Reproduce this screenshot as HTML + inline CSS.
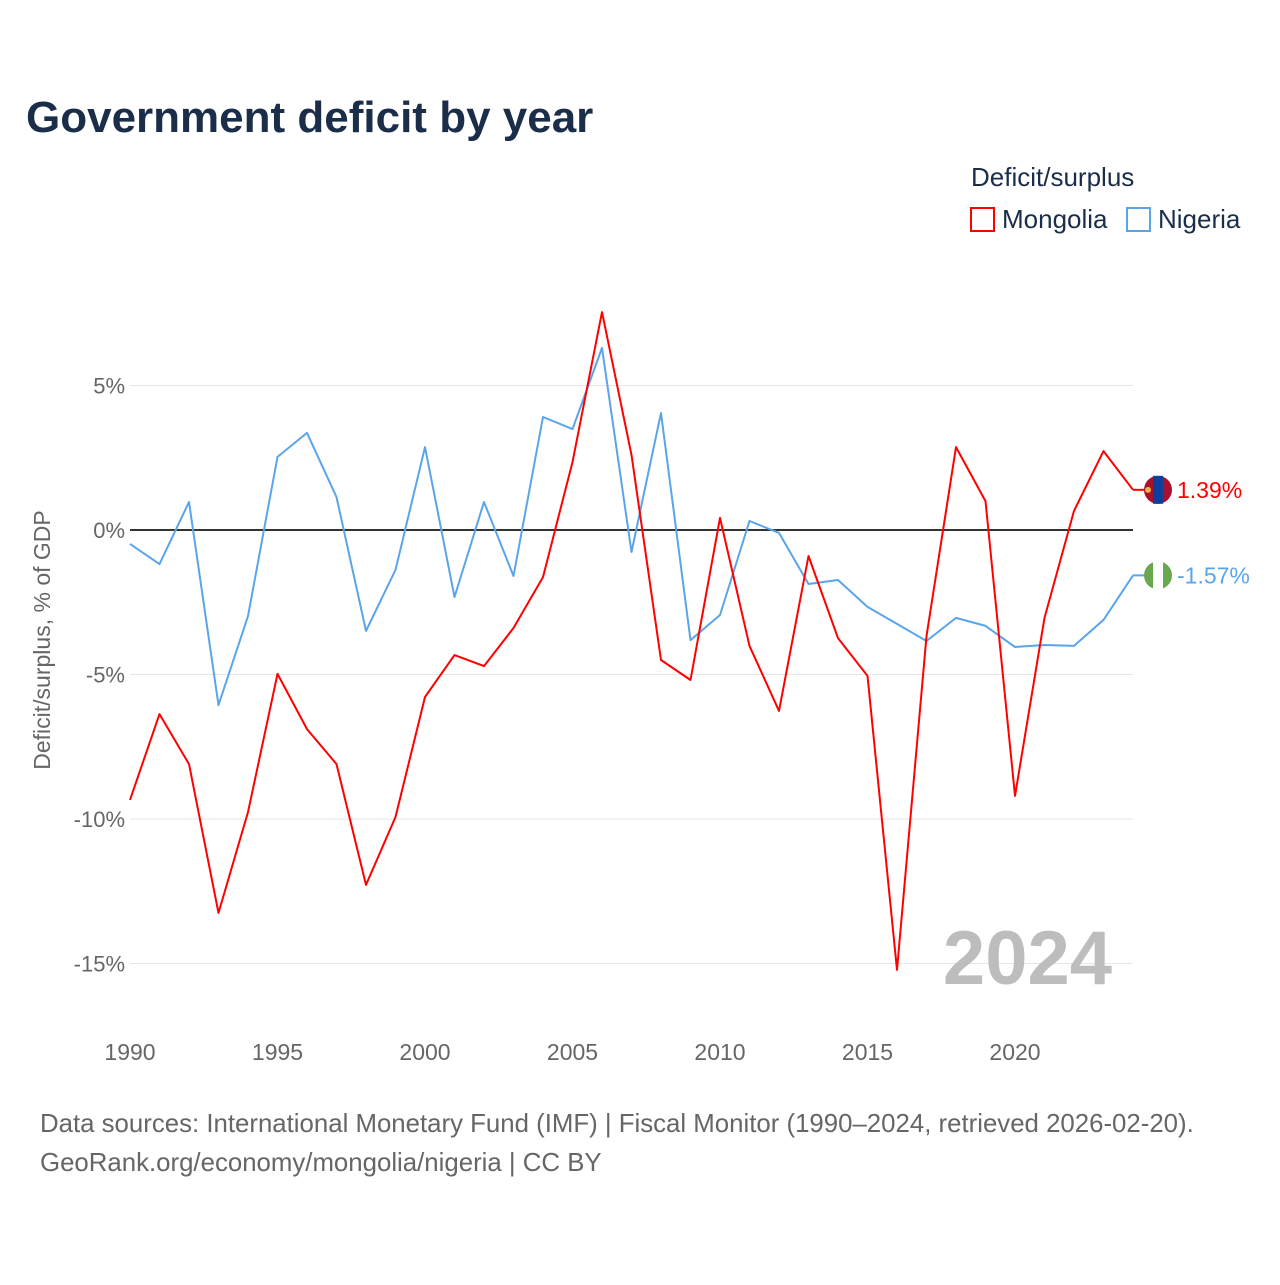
<!DOCTYPE html>
<html><head><meta charset="utf-8">
<style>
html,body{margin:0;padding:0;background:#fff;}
body{width:1280px;height:1280px;overflow:hidden;font-family:"Liberation Sans",sans-serif;}
</style></head>
<body>
<svg id="chart" width="1280" height="1280" xmlns="http://www.w3.org/2000/svg" font-family="Liberation Sans, sans-serif">
<text x="26" y="132" font-size="44" font-weight="bold" fill="#1a2e4a">Government deficit by year</text>
<text x="971" y="186" font-size="26" fill="#1a2e4a">Deficit/surplus</text>
<rect x="971" y="208" width="23" height="23" fill="none" stroke="#ff0000" stroke-width="2"/>
<text x="1002" y="228" font-size="26" fill="#1a2e4a">Mongolia</text>
<rect x="1127" y="208" width="23" height="23" fill="none" stroke="#5aa5ea" stroke-width="2"/>
<text x="1158" y="228" font-size="26" fill="#1a2e4a">Nigeria</text>
<text transform="translate(50,640) rotate(-90)" text-anchor="middle" font-size="23" fill="#666">Deficit/surplus, % of GDP</text>
<g id="grid"></g>
<g id="xticks"></g>
<text x="1112" y="984" text-anchor="end" font-size="76" font-weight="bold" fill="#bdbdbd">2024</text>
<g id="series"></g>
<text x="40" y="1132" font-size="25.8" fill="#666">Data sources: International Monetary Fund (IMF) | Fiscal Monitor (1990–2024, retrieved 2026-02-20).</text>
<text x="40" y="1171" font-size="25.8" fill="#666">GeoRank.org/economy/mongolia/nigeria | CC BY</text>
</svg>
<script>
const years = [1990,1991,1992,1993,1994,1995,1996,1997,1998,1999,2000,2001,2002,2003,2004,2005,2006,2007,2008,2009,2010,2011,2012,2013,2014,2015,2016,2017,2018,2019,2020,2021,2022,2023,2024];
const mongolia = [-9.34,-6.37,-8.1,-13.25,-9.76,-4.98,-6.89,-8.1,-12.28,-9.93,-5.78,-4.33,-4.71,-3.39,-1.63,2.35,7.54,2.6,-4.5,-5.19,0.42,-4.01,-6.26,-0.9,-3.74,-5.05,-15.22,-3.67,2.87,1.0,-9.2,-3.04,0.66,2.73,1.39];
const nigeria = [-0.48,-1.18,0.97,-6.06,-2.98,2.53,3.36,1.14,-3.49,-1.38,2.87,-2.32,0.97,-1.59,3.91,3.49,6.3,-0.76,4.05,-3.81,-2.94,0.31,-0.1,-1.87,-1.73,-2.66,-3.25,-3.84,-3.04,-3.32,-4.05,-3.98,-4.01,-3.11,-1.57];
const yTicks = [5,0,-5,-10,-15];
const yTickLabels = ["5%","0%","-5%","-10%","-15%"];
const xTicks = [1990,1995,2000,2005,2010,2015,2020];

const NS="http://www.w3.org/2000/svg";
const x = v => 130 + (v-1990)*(1133-130)/34;
const y = v => 530 - v*28.9;
function mk(tag,attrs,parent){const e=document.createElementNS(NS,tag);for(const k in attrs)e.setAttribute(k,attrs[k]);parent.appendChild(e);return e;}
const grid=document.getElementById('grid');
yTicks.forEach((t,i)=>{
  const l=mk('line',{x1:130,x2:1133,y1:y(t),y2:y(t),stroke:t===0?'#333':'#e6e6e6','stroke-width':t===0?2:1},grid);
  
  
  const tx=mk('text',{x:125,y:y(t)+8,'text-anchor':'end','font-size':22,fill:'#666'},grid);
  tx.textContent=yTickLabels[i];
  
  
});
const xt=document.getElementById('xticks');
xTicks.forEach(t=>{
  const tx=mk('text',{x:x(t),y:1060,'text-anchor':'middle','font-size':23,fill:'#666'},xt);
  tx.textContent=t;
  
  
});
const sg=document.getElementById('series');
function drawSeries(vals,color,name){
  const d=vals.map((v,i)=>(i?'L':'M')+x(years[i]).toFixed(1)+','+y(v).toFixed(1)).join(' ');
  const p=mk('path',{d:d,fill:'none',stroke:color,'stroke-width':2,'stroke-linejoin':'round'},sg);
  
  
  const last=vals[vals.length-1];
  const ly=y(last);
  mk('line',{x1:x(years[years.length-1]),x2:1146,y1:ly,y2:ly,stroke:color,'stroke-width':2},sg);
  const c=mk('g',{},sg);
  
  
  if(name==='mongolia'){
    mk('circle',{cx:1158,cy:ly,r:14,fill:'#a8102e'},c);
    mk('rect',{x:1153,y:ly-14,width:10,height:28,fill:'#0f3f9a'},c);
    mk('circle',{cx:1148,cy:ly,r:3,fill:'#f0b24a'},c);
  } else {
    mk('circle',{cx:1158,cy:ly,r:14,fill:'#6aa84f'},c);
    mk('rect',{x:1153,y:ly-14,width:10,height:28,fill:'#fff'},c);
  }
  const t=mk('text',{x:1177,y:ly+8,'font-size':23,fill:color},sg);
  t.textContent=last.toFixed(2)+'%';
  
  
}
drawSeries(nigeria,'#5aa5ea','nigeria');
drawSeries(mongolia,'#ff0000','mongolia');
</script>
</body></html>
